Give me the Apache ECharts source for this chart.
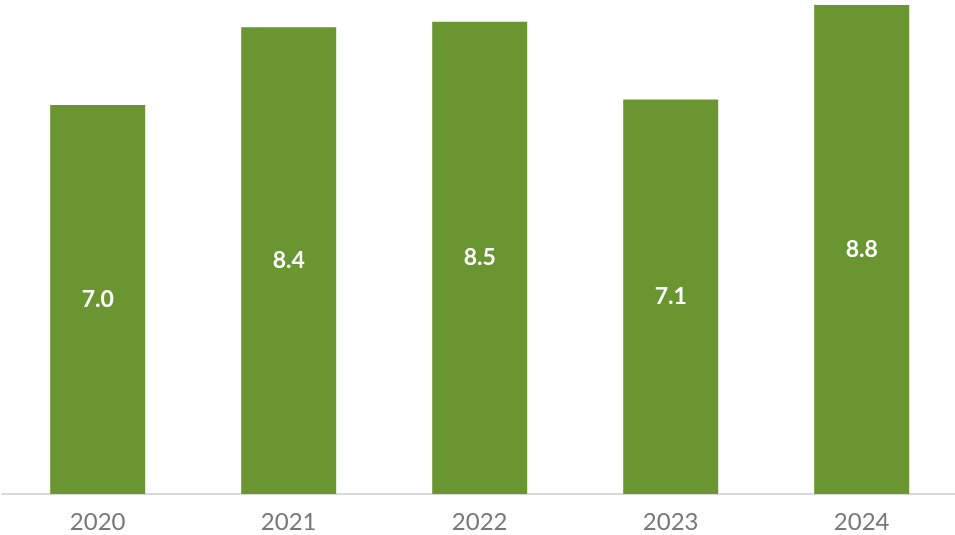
<!DOCTYPE html>
<html>
<head>
<meta charset="utf-8">
<style>html,body{margin:0;padding:0;background:#fff;overflow:hidden;width:955px;height:535px;}#c{width:960px;height:535px;}</style>
<script src="https://cdn.jsdelivr.net/npm/echarts@6/dist/echarts.min.js"></script>
</head>
<body>
<div id="c"></div>
<script>
const categories = ['2020', '2021', '2022', '2023', '2024'];
const values = [7.0, 8.4, 8.5, 7.1, 8.8];

const chart = echarts.init(document.getElementById('c'), null, {renderer: 'canvas'});
chart.setOption({
  animation: false,
  grid: {left: 2.2, top: 5, width: 955, bottom: 41, containLabel: false},
  xAxis: {
    type: 'category',
    data: categories,
    axisLine: {lineStyle: {color: '#d9d9d9', width: 2}},
    axisTick: {show: false},
    axisLabel: {color: '#777777', fontSize: 24, fontFamily: 'Lato', margin: 16}
  },
  yAxis: {
    type: 'value', min: 0, max: 8.8,
    show: false,
    splitLine: {show: false}
  },
  series: [{
    type: 'bar',
    data: values,
    barWidth: 95,
    itemStyle: {color: '#6a9631'},
    label: {
      show: true, position: 'inside',
      formatter: p => p.value.toFixed(1),
      color: '#ffffff', fontSize: 23, fontWeight: 'bold', fontFamily: 'Lato'
    }
  }]
});
</script>
</body>
</html>
